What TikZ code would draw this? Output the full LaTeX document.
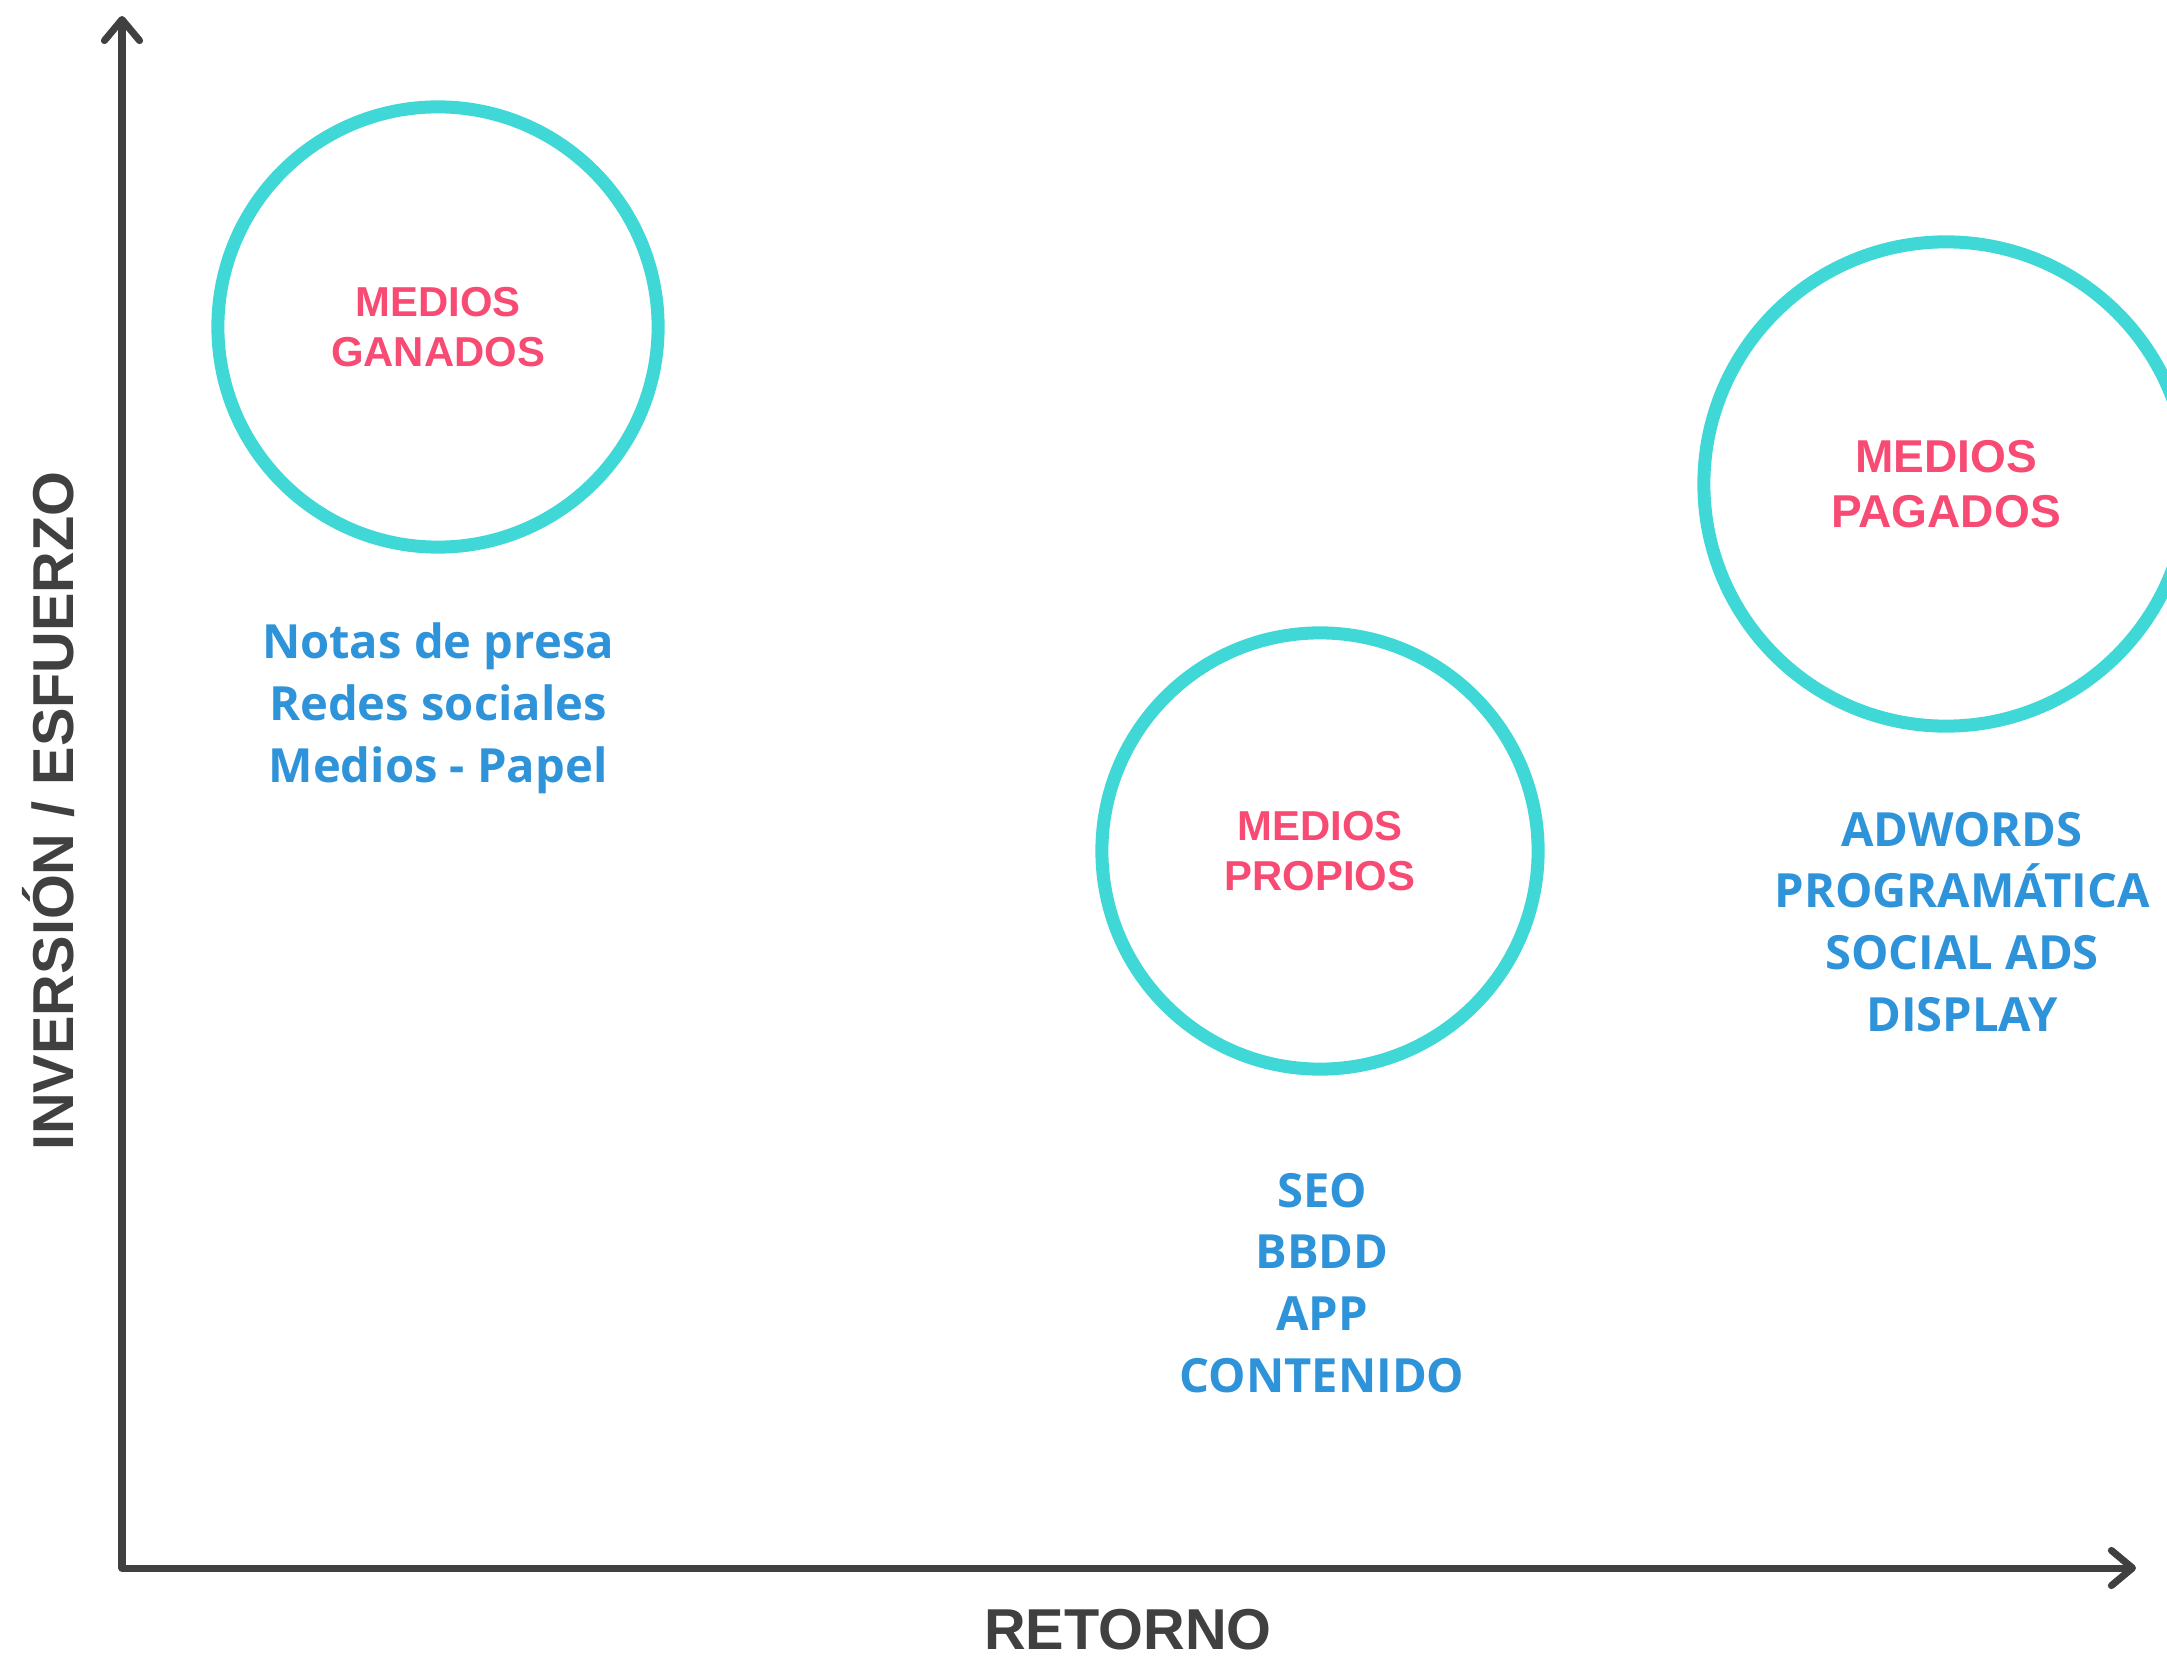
\documentclass[tikz,border=0pt]{standalone}
\usepackage{fontspec}
\setmainfont{Liberation Sans}
\newfontfamily\listfont{Open Sans}
\usetikzlibrary{arrows.meta}

\definecolor{axisgray}{HTML}{404040}
\definecolor{ringcyan}{HTML}{3FD8D6}
\definecolor{titlepink}{HTML}{F74B73}
\definecolor{listblue}{HTML}{2E93D9}

\tikzset{
  axis/.style={axisgray,line width=2pt,line cap=round,
    -{Straight Barb[length=6pt,width=10pt,line cap=round,line join=round]}},
  ring/.style={circle,draw=ringcyan,line width=3.7pt,inner sep=0pt,align=center,
    text=titlepink,font=\bfseries\fontsize{11.9}{14}\selectfont},
  items/.style={align=center,text=listblue,font=\listfont\bfseries\fontsize{13.4}{17.6}\selectfont},
  axislabel/.style={text=axisgray,inner sep=0pt,font=\bfseries\fontsize{16.4}{20}\selectfont}
}

\begin{document}
\begin{tikzpicture}[x=0.01cm,y=-0.01cm]
\useasboundingbox (0,0) rectangle (2167,1658);

\coordinate (O) at (122,1568);
\coordinate (Ytop) at (122,16);
\coordinate (Xend) at (2136,1568);

\draw[axis] (O)--(Ytop);
\draw[axis] (O)--(Xend);

\node[axislabel] (retorno) at (1128,1630) {RETORNO};
\node[axislabel,rotate=90] (inversion) at (49,811) {INVERSIÓN / ESFUERZO};

% circulos
\node[ring,minimum size=4.4cm] (ganados) at (438,327) {MEDIOS\\GANADOS};
\node[ring,minimum size=4.36cm] (propios) at (1320,851) {MEDIOS\\PROPIOS};
\node[ring,minimum size=4.84cm,font=\bfseries\fontsize{13.1}{15.6}\selectfont] (pagados) at (1946,484) {MEDIOS\\PAGADOS};

% listas
\node[items] (listaganados) at (438,708) {Notas de presa\\Redes sociales\\Medios - Papel};
\node[items] (listapropios) at (1322,1283) {SEO\\BBDD\\APP\\CONTENIDO};
\node[items] (listapagados) at (1962,922) {ADWORDS\\PROGRAMÁTICA\\SOCIAL ADS\\DISPLAY};

\end{tikzpicture}
\end{document}
